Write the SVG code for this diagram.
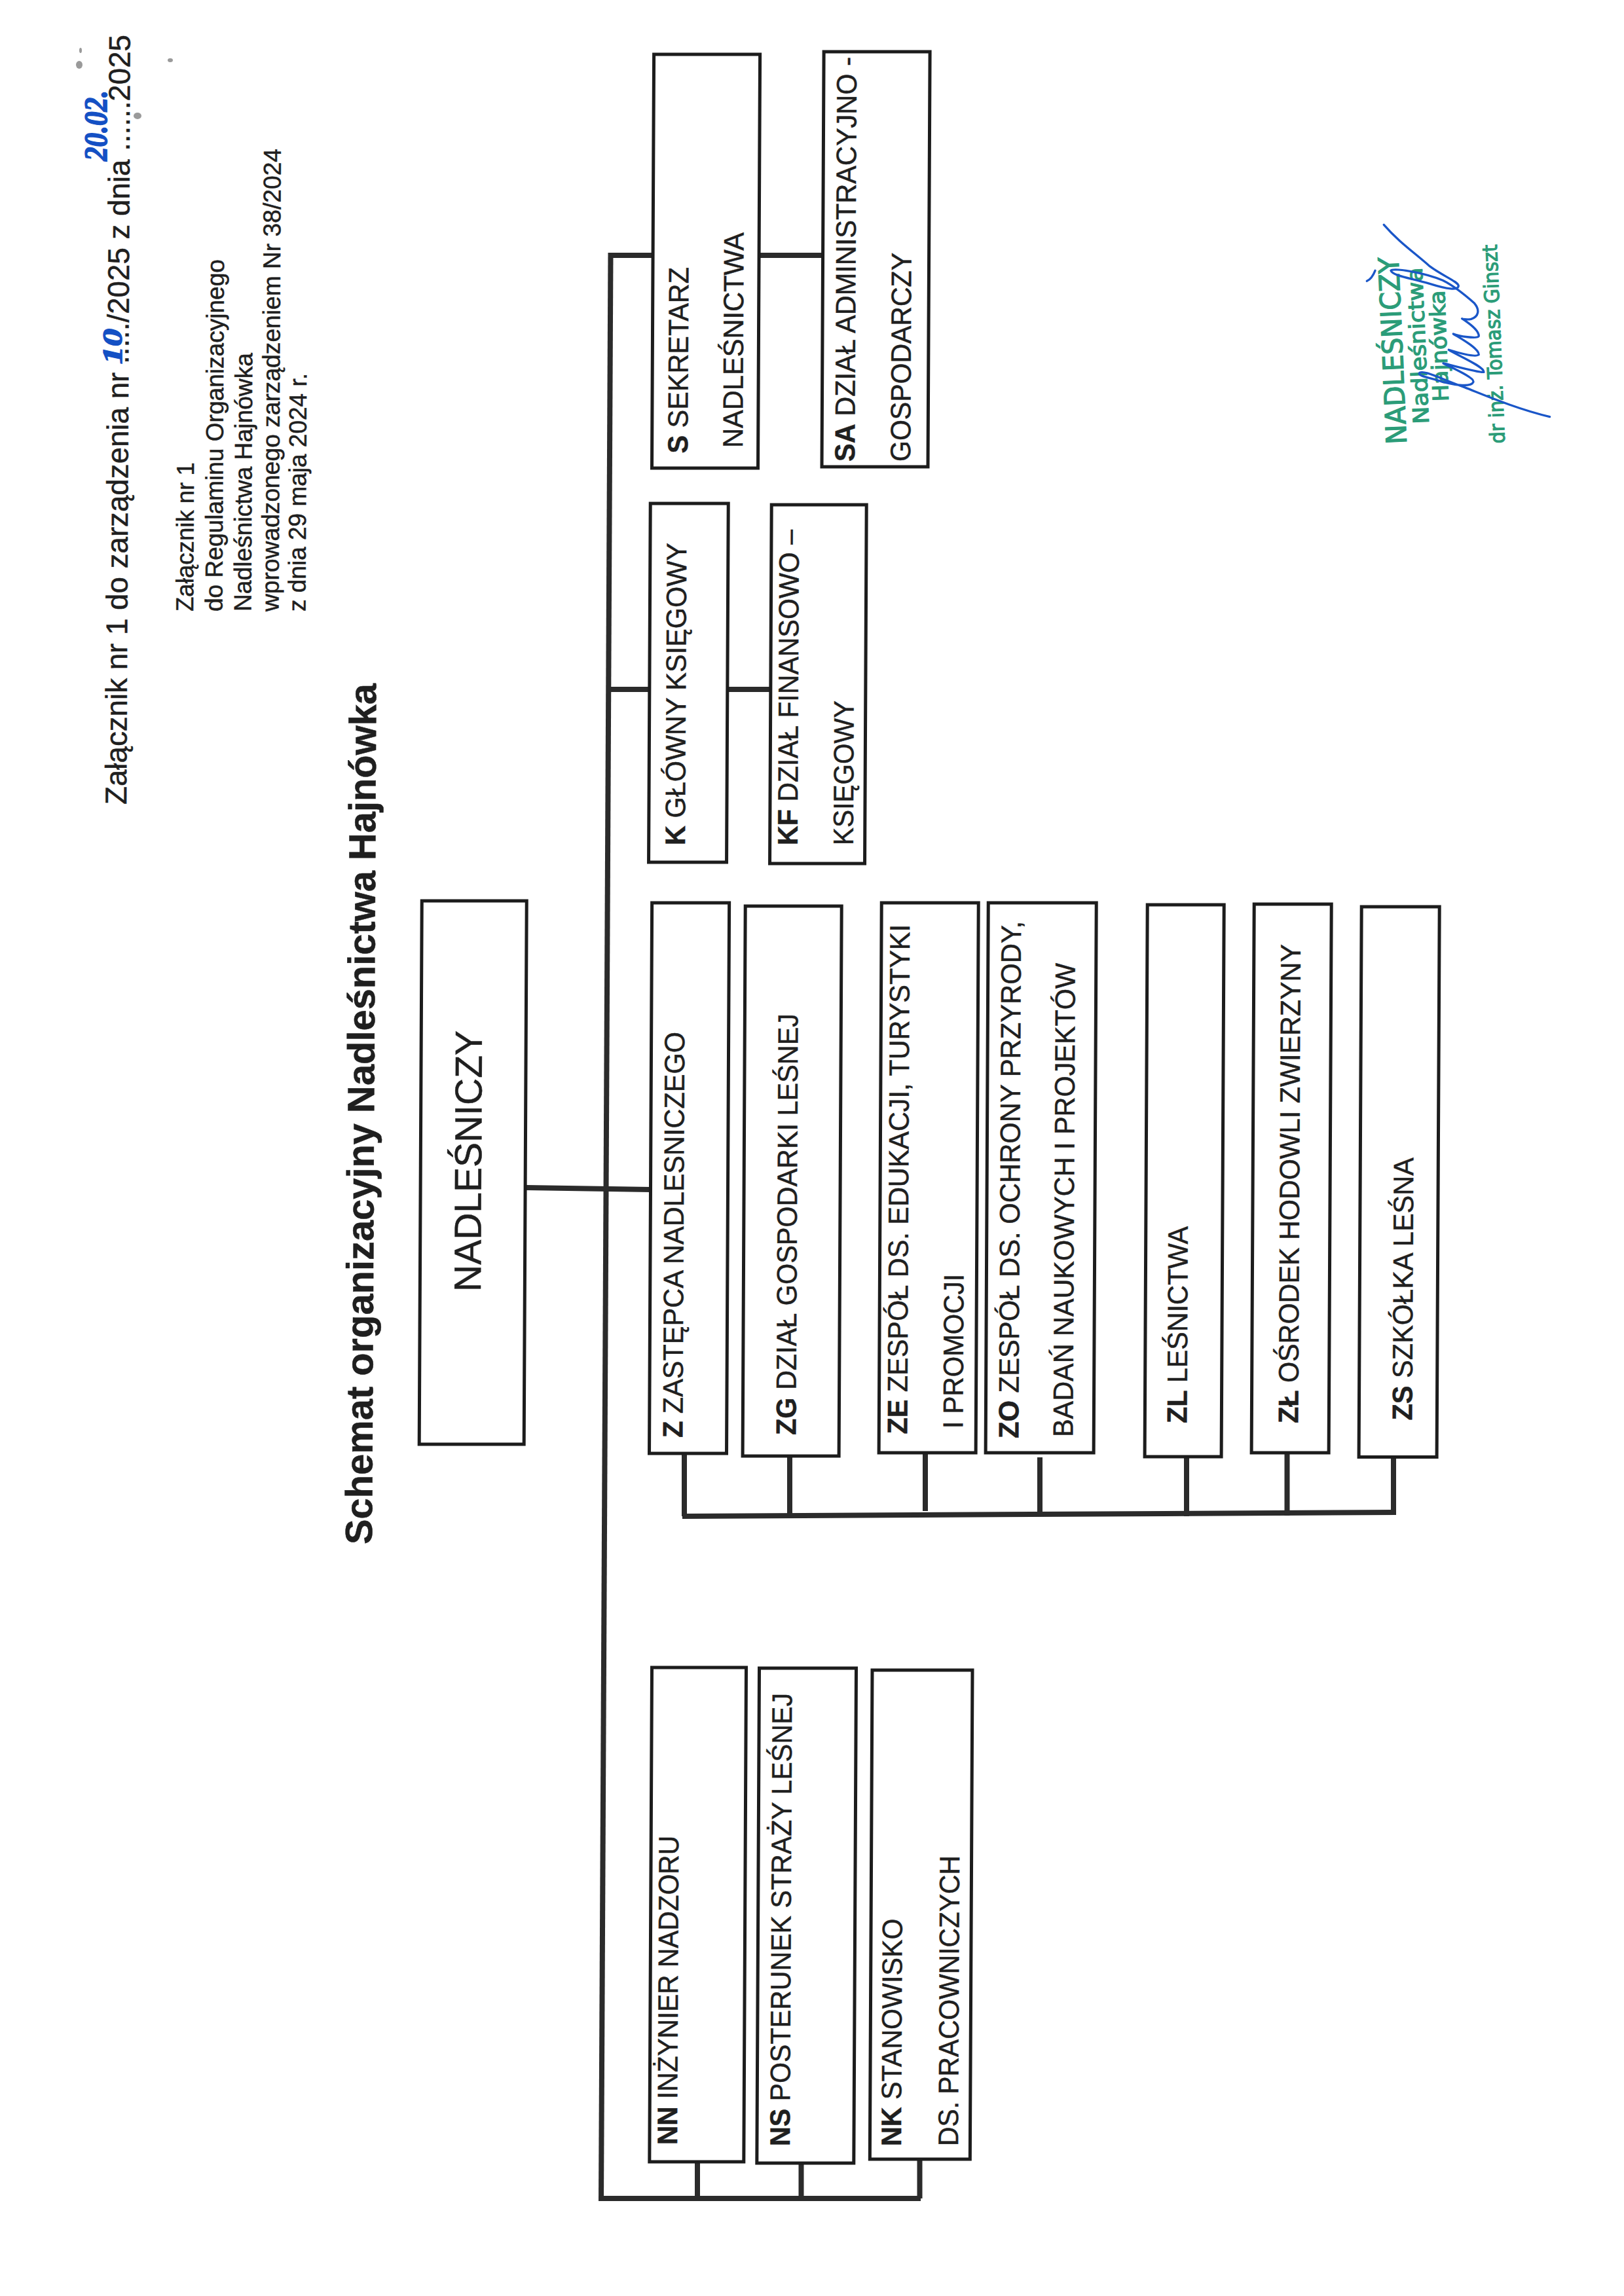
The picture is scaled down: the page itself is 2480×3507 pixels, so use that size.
<svg xmlns="http://www.w3.org/2000/svg" width="2480" height="3507" viewBox="0 0 2480 3507">
<style>
text{font-family:"Liberation Sans",Arial,sans-serif;fill:#1f1f1f;stroke:#1f1f1f;stroke-width:.5}
.n{font-size:43px}
.b{font-weight:bold}
.box{fill:#fff;stroke:#1c1c1c;stroke-width:5}
.c{fill:none;stroke:#2b2b2b;stroke-width:8}
.hdr{font-size:46px}
.sm{font-size:37.5px}
.st{font-family:"DejaVu Sans",sans-serif;fill:#2b9c78;stroke:#2b9c78;stroke-width:1.2}
.hand{font-family:"Liberation Serif",serif;font-style:italic;font-weight:bold;fill:#1450c4;stroke:#1450c4;stroke-width:1.5}
.sig{fill:none;stroke:#1a56c8;stroke-width:10;stroke-linecap:round;stroke-linejoin:round}
.sp{fill:#9a9a9a}
</style>
<rect width="2480" height="3507" fill="#fff"/>
<g id="specks">
<ellipse class="sp" cx="121" cy="99" rx="5" ry="6"/>
<ellipse class="sp" cx="123" cy="77" rx="2" ry="4"/>
<ellipse class="sp" cx="260" cy="92" rx="4" ry="3"/>
<ellipse class="sp" cx="210" cy="177" rx="6" ry="5"/>
</g>
<g id="heading" transform="matrix(1 0 -0.0049 1 0 0)">
<text class="hdr" transform="translate(199 1229) rotate(-90)" textLength="1176" lengthAdjust="spacingAndGlyphs">Załącznik nr 1 do zarządzenia nr ...../2025 z dnia ......2025</text>
<text class="sm" transform="translate(299.6 934) rotate(-90)" textLength="228" lengthAdjust="spacingAndGlyphs">Załącznik nr 1</text>
<text class="sm" transform="translate(344 934) rotate(-90)" textLength="538" lengthAdjust="spacingAndGlyphs">do Regulaminu Organizacyjnego</text>
<text class="sm" transform="translate(388 934) rotate(-90)" textLength="395" lengthAdjust="spacingAndGlyphs">Nadleśnictwa Hajnówka</text>
<text class="sm" transform="translate(430 934) rotate(-90)" textLength="707" lengthAdjust="spacingAndGlyphs">wprowadzonego zarządzeniem Nr 38/2024</text>
<text class="sm" transform="translate(471 934) rotate(-90)" textLength="364" lengthAdjust="spacingAndGlyphs">z dnia 29 maja 2024 r.</text>
<text class="b" font-size="58" transform="translate(579.6 2359) rotate(-90)" textLength="1315" lengthAdjust="spacingAndGlyphs">Schemat organizacyjny Nadleśnictwa Hajnówka</text>
</g>
<g id="handwriting">
<text class="hand" font-size="42" transform="translate(186 556) rotate(-90)" textLength="54" lengthAdjust="spacingAndGlyphs">10</text>
<text class="hand" font-size="50" transform="translate(163 246) rotate(-90)" textLength="108" lengthAdjust="spacingAndGlyphs">20.02.</text>
</g>
<g id="connectors">
<path class="c" d="M932.5 386L918 3362"/>
<path class="c" d="M915 3358H1406"/>
<path class="c" d="M930 390H997M1160 390H1257"/>
<path class="c" d="M928 1053H992M1113 1053H1177"/>
<path class="c" d="M803 1814L993 1817"/>
<path class="c" d="M1042 2316L2132 2310"/>
<path class="c" d="M1045 2222V2316M1206 2226V2312M1413 2221V2308M1588 2226V2314M1812 2227V2316M1965.5 2221V2315M2128 2227V2312"/>
<path class="c" d="M1065 3303V3358M1223.5 3306V3358M1404.5 3300V3358"/>
</g>
<g id="nodes" transform="matrix(1 0 -0.0049 1 0 0)">
<g id="n-nadlesniczy"><rect class="box" x="651" y="1376" width="160" height="830"/><text font-size="58" transform="translate(743.7 1973) rotate(-90)" textLength="399" lengthAdjust="spacingAndGlyphs">NADLEŚNICZY</text></g>
<g id="n-s"><rect class="box" x="999" y="83" width="162" height="632"/><text class="n" transform="translate(1053.4 692.6) rotate(-90)" textLength="284.6" lengthAdjust="spacingAndGlyphs"><tspan class="b">S</tspan> SEKRETARZ</text><text class="n" transform="translate(1137.4 684) rotate(-90)" textLength="329" lengthAdjust="spacingAndGlyphs">NADLEŚNICTWA</text></g>
<g id="n-sa"><rect class="box" x="1258.5" y="79" width="162" height="634"/><text class="n" transform="translate(1308.5 705) rotate(-90)" textLength="618" lengthAdjust="spacingAndGlyphs"><tspan class="b">SA</tspan> DZIAŁ ADMINISTRACYJNO -</text><text class="n" transform="translate(1393.5 705) rotate(-90)" textLength="319" lengthAdjust="spacingAndGlyphs">GOSPODARCZY</text></g>
<g id="n-k"><rect class="box" x="997" y="769" width="119" height="548"/><text class="n" transform="translate(1052.3 1291) rotate(-90)" textLength="462" lengthAdjust="spacingAndGlyphs"><tspan class="b">K</tspan> GŁÓWNY KSIĘGOWY</text></g>
<g id="n-kf"><rect class="box" x="1182" y="771" width="145" height="548"/><text class="n" transform="translate(1224 1291) rotate(-90)" textLength="482" lengthAdjust="spacingAndGlyphs"><tspan class="b">KF</tspan> DZIAŁ FINANSOWO –</text><text class="n" transform="translate(1309 1291) rotate(-90)" textLength="221" lengthAdjust="spacingAndGlyphs">KSIĘGOWY</text></g>
<g id="n-z"><rect class="box" x="1002.4" y="1379" width="118" height="841"/><text class="n" transform="translate(1053 2196) rotate(-90)" textLength="620" lengthAdjust="spacingAndGlyphs"><tspan class="b">Z</tspan> ZASTĘPCA NADLESNICZEGO</text></g>
<g id="n-zg"><rect class="box" x="1145" y="1384" width="147" height="840"/><text class="n" transform="translate(1226 2192) rotate(-90)" textLength="644" lengthAdjust="spacingAndGlyphs"><tspan class="b">ZG</tspan> DZIAŁ  GOSPODARKI LEŚNEJ</text></g>
<g id="n-ze"><rect class="box" x="1353" y="1379" width="148" height="840"/><text class="n" transform="translate(1396 2190.6) rotate(-90)" textLength="778.6" lengthAdjust="spacingAndGlyphs"><tspan class="b">ZE</tspan> ZESPÓŁ DS. EDUKACJI, TURYSTYKI</text><text class="n" transform="translate(1481 2182) rotate(-90)" textLength="236" lengthAdjust="spacingAndGlyphs">I PROMOCJI</text></g>
<g id="n-zo"><rect class="box" x="1516" y="1379" width="165" height="840"/><text class="n" transform="translate(1566 2197) rotate(-90)" textLength="790" lengthAdjust="spacingAndGlyphs"><tspan class="b">ZO</tspan> ZESPÓŁ DS. OCHRONY PRZYRODY,</text><text class="n" transform="translate(1649 2195) rotate(-90)" textLength="724" lengthAdjust="spacingAndGlyphs">BADAŃ NAUKOWYCH I PROJEKTÓW</text></g>
<g id="n-zl"><rect class="box" x="1759" y="1382" width="117" height="843"/><text class="n" transform="translate(1823 2174) rotate(-90)" textLength="301" lengthAdjust="spacingAndGlyphs"><tspan class="b">ZL</tspan> LEŚNICTWA</text></g>
<g id="n-zl2"><rect class="box" x="1922" y="1381" width="118" height="838"/><text class="n" transform="translate(1993 2174) rotate(-90)" textLength="732" lengthAdjust="spacingAndGlyphs"><tspan class="b">ZŁ</tspan> OŚRODEK HODOWLI ZWIERZYNY</text></g>
<g id="n-zs"><rect class="box" x="2086" y="1385" width="119" height="840.5"/><text class="n" transform="translate(2167 2169.5) rotate(-90)" textLength="401.5" lengthAdjust="spacingAndGlyphs"><tspan class="b">ZS</tspan> SZKÓŁKA LEŚNA</text></g>
<g id="n-nn"><rect class="box" x="1008" y="2547" width="144" height="755"/><text class="n" transform="translate(1050 3276) rotate(-90)" textLength="472" lengthAdjust="spacingAndGlyphs"><tspan class="b">NN</tspan> INŻYNIER NADZORU</text></g>
<g id="n-ns"><rect class="box" x="1172" y="2548" width="148" height="756"/><text class="n" transform="translate(1222 3278) rotate(-90)" textLength="692" lengthAdjust="spacingAndGlyphs"><tspan class="b">NS</tspan> POSTERUNEK STRAŻY LEŚNEJ</text></g>
<g id="n-nk"><rect class="box" x="1344.5" y="2551" width="153" height="747"/><text class="n" transform="translate(1392 3278) rotate(-90)" textLength="347.5" lengthAdjust="spacingAndGlyphs"><tspan class="b">NK</tspan> STANOWISKO</text><text class="n" transform="translate(1479 3278) rotate(-90)" textLength="444" lengthAdjust="spacingAndGlyphs">DS. PRACOWNICZYCH</text></g>
</g>
<g id="stamp">
<text class="st" font-size="43" transform="translate(2148 678) rotate(-92.5)" textLength="286" lengthAdjust="spacingAndGlyphs">NADLEŚNICZY</text>
<text class="st" font-size="33" transform="translate(2182 647) rotate(-92.5)" textLength="239" lengthAdjust="spacingAndGlyphs">Nadleśnictwa</text>
<text class="st" font-size="33" transform="translate(2212 613) rotate(-92)" textLength="170" lengthAdjust="spacingAndGlyphs">Hajnówka</text>
<text class="st" font-size="31" transform="translate(2298 677) rotate(-92.3)" textLength="304" lengthAdjust="spacingAndGlyphs">dr inż. Tomasz Ginszt</text>
</g>
<g id="signature" transform="translate(1950 300) scale(.3333)">
<path class="sig" d="M490 130C560 210 620 250 700 320C760 365 830 390 832 410C830 432 780 425 700 400C620 375 530 365 522 340C530 325 680 350 760 385C800 405 860 450 905 490C930 520 925 550 890 562C870 566 850 562 848 560C870 575 925 610 925 640C920 655 830 640 808 630C840 650 925 695 925 725C910 740 810 710 787 703C830 730 950 780 948 805C930 810 790 770 762 765C800 785 905 830 900 850C890 875 820 865 760 850C700 830 650 825 652 810C665 790 760 840 860 875C950 910 1100 975 1250 1010"/>
<path class="sig" d="M450 340C440 365 430 380 412 388" stroke-width="6"/>
</g>
</svg>
